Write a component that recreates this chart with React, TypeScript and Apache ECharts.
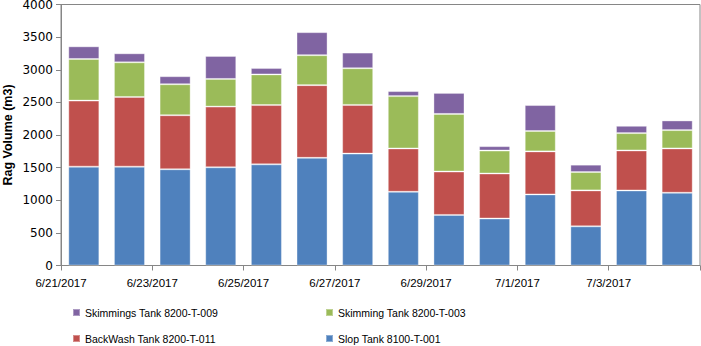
import React, { useEffect, useRef } from "react";
import * as echarts from "echarts";

const categories = ["6/21/2017","6/22/2017","6/23/2017","6/24/2017","6/25/2017","6/26/2017","6/27/2017","6/28/2017","6/29/2017","6/30/2017","7/1/2017","7/2/2017","7/3/2017","7/4/2017"];
const tickLabels = ["6/21/2017","6/23/2017","6/25/2017","6/27/2017","6/29/2017","7/1/2017","7/3/2017",""];
const slopTank = [1515,1515,1475,1505,1550,1650,1715,1130,775,720,1090,600,1150,1115];
const backwashTank = [1012,1068,828,930,909,1114,746,664,665,690,659,551,613,679];
const skimmingTank003 = [638,531,475,424,470,459,562,802,883,352,312,281,266,281];
const skimmingsTank009 = [194,138,123,352,97,353,240,77,322,67,398,113,112,148];

const names = {
  slop: "Slop Tank 8100-T-001",
  back: "BackWash Tank 8200-T-011",
  s003: "Skimming Tank 8200-T-003",
  s009: "Skimmings Tank 8200-T-009",
};

export default function App() {
  const ref = useRef<HTMLDivElement>(null);
  useEffect(() => {
    if (!ref.current) return;
    const chart = echarts.init(ref.current, null, { renderer: "svg" });
    const font = "'Liberation Sans', Arial, sans-serif";
    const mk = (name: string, data: number[], color: string) => ({
      name,
      type: "bar",
      stack: "total",
      data,
      barCategoryGap: "32%",
      itemStyle: { color, borderColor: "rgba(255,255,255,0.35)", borderWidth: 1 },
    });
    const legendBase = {
      orient: "vertical",
      top: 306,
      height: 40,
      padding: 0,
      itemWidth: 7,
      itemHeight: 7,
      itemGap: 13,
      icon: "rect",
      textStyle: { fontFamily: font, fontSize: 10.5, lineHeight: 13, color: "#000" },
    };
    chart.setOption({
      animation: false,
      grid: {
        left: 61,
        top: 4.5,
        width: 639,
        height: 261,
        show: true,
        borderColor: "#868686",
        borderWidth: 1,
        containLabel: false,
        outerBoundsMode: "none",
      },
      xAxis: [
        {
          type: "category",
          data: categories,
          axisLine: { lineStyle: { color: "#868686" } },
          axisTick: { show: false },
          axisLabel: { show: false },
        },
        {
          type: "value",
          position: "bottom",
          offset: 0,
          min: 0,
          max: 14,
          interval: 2,
          axisLine: { show: false },
          splitLine: { show: false },
          axisTick: { show: true, length: 5, lineStyle: { color: "#868686" } },
          axisLabel: {
            margin: 11,
            fontFamily: font,
            fontSize: 11.5,
            color: "#000",
            showMaxLabel: true,
            formatter: (v: number) => tickLabels[Math.round(v / 2)] ?? "",
          },
        },
      ],
      yAxis: {
        type: "value",
        min: 0,
        max: 4000,
        interval: 500,
        name: "Rag Volume (m3)",
        nameLocation: "middle",
        nameGap: 47,
        nameMoveOverlap: false,
        nameTextStyle: { fontFamily: font, fontWeight: "bold", fontSize: 12.5, lineHeight: 13, color: "#000" },
        axisLine: { show: true, lineStyle: { color: "#868686" } },
        axisTick: { show: true, length: 5, lineStyle: { color: "#868686" } },
        splitLine: { show: false },
        axisLabel: {
          fontFamily: "'DejaVu Sans', Verdana, sans-serif",
          fontSize: 12,
          lineHeight: 12,
          color: "#000",
          margin: 8,
          formatter: (v: number) => String(v),
        },
      },
      legend: [
        { ...legendBase, left: 72, data: [names.s009, names.back] },
        { ...legendBase, left: 325, data: [names.s003, names.slop] },
      ],
      series: [
        mk(names.slop, slopTank, "#4F81BD"),
        mk(names.back, backwashTank, "#C0504D"),
        mk(names.s003, skimmingTank003, "#9BBB59"),
        mk(names.s009, skimmingsTank009, "#8064A2"),
      ],
    });
    return () => chart.dispose();
  }, []);
  return <div ref={ref} style={{ width: 701, height: 346, position: "absolute", left: 0, top: 0 }} />;
}
